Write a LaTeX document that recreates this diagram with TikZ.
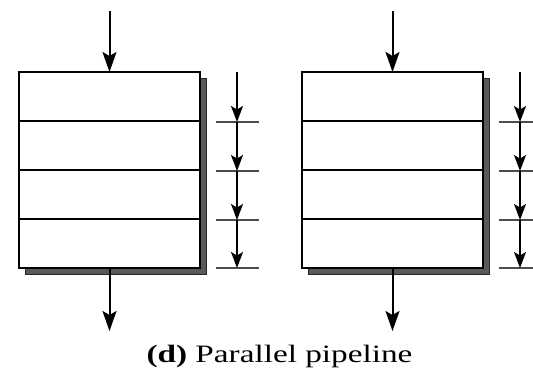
\documentclass[tikz,border=0pt]{standalone}
\usepackage{fontspec}
\setmainfont{Liberation Serif}
\usetikzlibrary{arrows.meta,calc}
\begin{document}
\begin{tikzpicture}[x=1pt,y=-1pt,
  stagebox/.style={draw=black, fill=white, line width=1.8pt, minimum width=181pt, minimum height=196pt, inner sep=0pt, outer sep=0pt},
  shadowbox/.style={draw=black!85, fill=black!65, line width=0.8pt, minimum width=181pt, minimum height=196pt, inner sep=0pt, outer sep=0pt},
  divider/.style={line width=1.7pt},
  bigarrow/.style={-{Stealth[length=20pt,width=14pt,inset=4pt]}, line width=2pt},
  tickarrow/.style={-{Stealth[length=16pt,width=12pt,inset=3.5pt]}, line width=1.6pt},
  tickline/.style={line width=1.7pt, draw=black!70},
  caption/.style={font=\fontsize{25}{30}\selectfont, anchor=base, inner sep=0pt}]
\useasboundingbox (0,0) rectangle (533,384);
% ---------- left pipeline ----------
\node[shadowbox] (s1) at (115.5,176) {};
\node[stagebox] (b1) at (109.5,170) {};
\foreach \f in {0.25,0.5,0.75}
  \draw[divider] ($(b1.north west)!\f!(b1.south west)$) -- ($(b1.north east)!\f!(b1.south east)$);
\coordinate (in1) at (109.5,11);
\coordinate (out1) at (109.5,331);
\draw[bigarrow] (in1) -- (b1.north);
\draw[bigarrow] (b1.south) -- (out1);
% ticks
\foreach \i/\y in {0/72,1/122,2/171,3/220,4/268}
  \coordinate (ta\i) at (237,\y);
\foreach \i in {1,...,4}
  \draw[tickline] ($(ta\i)+(-21,0)$) -- ($(ta\i)+(22,0)$);
\foreach \i/\j in {0/1,1/2,2/3,3/4}
  \draw[tickarrow] (ta\i) -- (ta\j);
% ---------- right pipeline ----------
\node[shadowbox] (s2) at (398.5,176) {};
\node[stagebox] (b2) at (392.5,170) {};
\foreach \f in {0.25,0.5,0.75}
  \draw[divider] ($(b2.north west)!\f!(b2.south west)$) -- ($(b2.north east)!\f!(b2.south east)$);
\coordinate (in2) at (392.5,11);
\coordinate (out2) at (392.5,331);
\draw[bigarrow] (in2) -- (b2.north);
\draw[bigarrow] (b2.south) -- (out2);
\foreach \i/\y in {0/72,1/122,2/171,3/220,4/268}
  \coordinate (tb\i) at (520,\y);
\foreach \i in {1,...,4}
  \draw[tickline] ($(tb\i)+(-21,0)$) -- ($(tb\i)+(14,0)$);
\foreach \i/\j in {0/1,1/2,2/3,3/4}
  \draw[tickarrow] (tb\i) -- (tb\j);
% ---------- caption ----------
\node[caption] (cap) at (279.5,362) {\scalebox{1.33}[1]{\textbf{(d)} Parallel pipeline}};
\end{tikzpicture}
\end{document}
